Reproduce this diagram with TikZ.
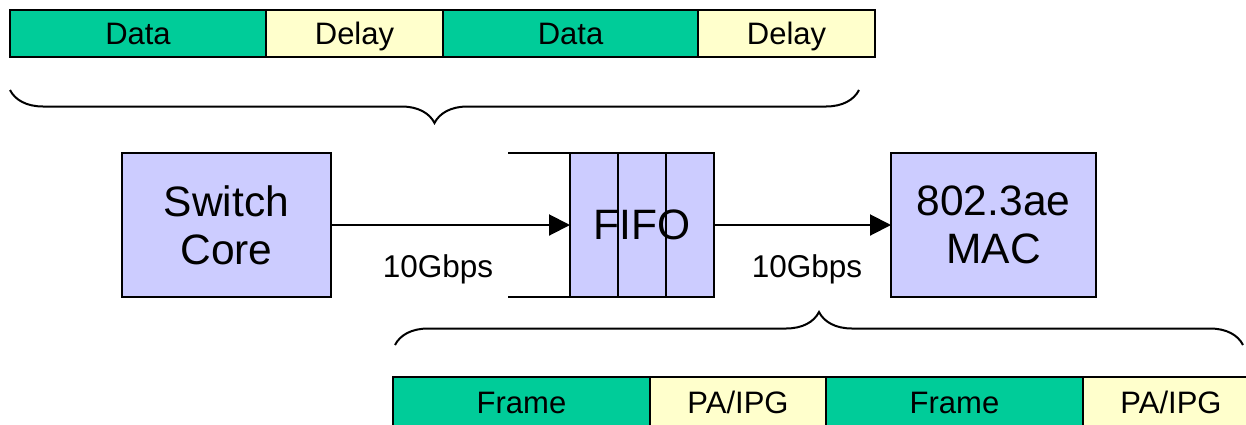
\documentclass[tikz,border=0pt]{standalone}
\usepackage{fontspec}
\setmainfont{Liberation Sans}
\usepackage{tikz}
\usetikzlibrary{positioning}
\usetikzlibrary{arrows.meta}
\usetikzlibrary{decorations.pathreplacing}
\usepackage{xcolor}
\definecolor{slotgreen}{HTML}{00CC99}
\definecolor{slotyellow}{HTML}{FFFFCC}
\definecolor{blockblue}{HTML}{CCCCFF}

\tikzset{
  slot/.style={draw=black, line width=2pt, minimum height=47pt, inner sep=0pt, outer sep=0pt,
    text height=22pt, text depth=0pt, font=\fontsize{31}{36}\selectfont},
  dataslot/.style={slot, fill=slotgreen, minimum width=256pt},
  gapslot/.style={slot, fill=slotyellow, minimum width=177pt},
  block/.style={draw=black, line width=2pt, fill=blockblue, minimum height=144pt, inner sep=0pt,
    outer sep=0pt, align=center, font=\fontsize{42.5}{48}\selectfont},
  rate/.style={font=\fontsize{31.5}{36}\selectfont},
  flow/.style={line width=2pt, -{Triangle[length=21pt,width=21pt]}},
  bracket/.style={decorate, decoration={brace, amplitude=33pt}, line width=2pt},
}

\begin{document}
\begin{tikzpicture}[x=1pt, y=-1pt]
    \clip (0,0) rectangle (1246,424);
    % slots on the switch side
    \node[dataslot] (data1) at (138,33.5) {Data};
    \node[gapslot, right=0pt of data1] (delay1) {Delay};
    \node[dataslot, right=0pt of delay1, minimum width=255pt] (data2) {Data};
    \node[gapslot, right=0pt of data2] (delay2) {Delay};
    \coordinate (topL) at (10,90);
    \coordinate (topR) at (859,90);
    \draw[bracket] (topR) -- (topL);

    % blocks
    \node[block, minimum width=209pt] (core) at (226.5,225) {Switch\\Core};
    \node[block, minimum width=144pt] (fifo) at (642,225) {FIFO};
    \node[block, minimum width=205pt] (mac) at (993.5,225) {802.3ae\\MAC};
    \foreach \k in {1,2}
        \draw[line width=2pt] (fifo.north west) ++(48*\k,0) -- ++(0,144);
    \coordinate (inTop) at (508,153);
    \coordinate (inBot) at (508,297);
    \draw[line width=2pt] (inTop) -- (fifo.north west);
    \draw[line width=2pt] (inBot) -- (fifo.south west);
    \draw[flow] (core) -- (fifo);
    \draw[flow] (fifo) -- (mac);
    \node[rate] (rate1) at (438,269.5) {10Gbps};
    \node[rate] (rate2) at (807,269.5) {10Gbps};

    % slots on the line side
    \coordinate (botL) at (395,345);
    \coordinate (botR) at (1243,345);
    \draw[bracket] (botL) -- (botR);
    \node[dataslot, minimum width=257pt, minimum height=50pt] (frame1) at (521.5,402) {Frame};
    \node[gapslot, right=0pt of frame1, minimum width=176pt, minimum height=50pt] (gap1) {PA/IPG};
    \node[dataslot, right=0pt of gap1, minimum width=257pt, minimum height=50pt] (frame2) {Frame};
    \node[gapslot, right=0pt of frame2, minimum width=176pt, minimum height=50pt] (gap2) {PA/IPG};
\end{tikzpicture}
\end{document}
